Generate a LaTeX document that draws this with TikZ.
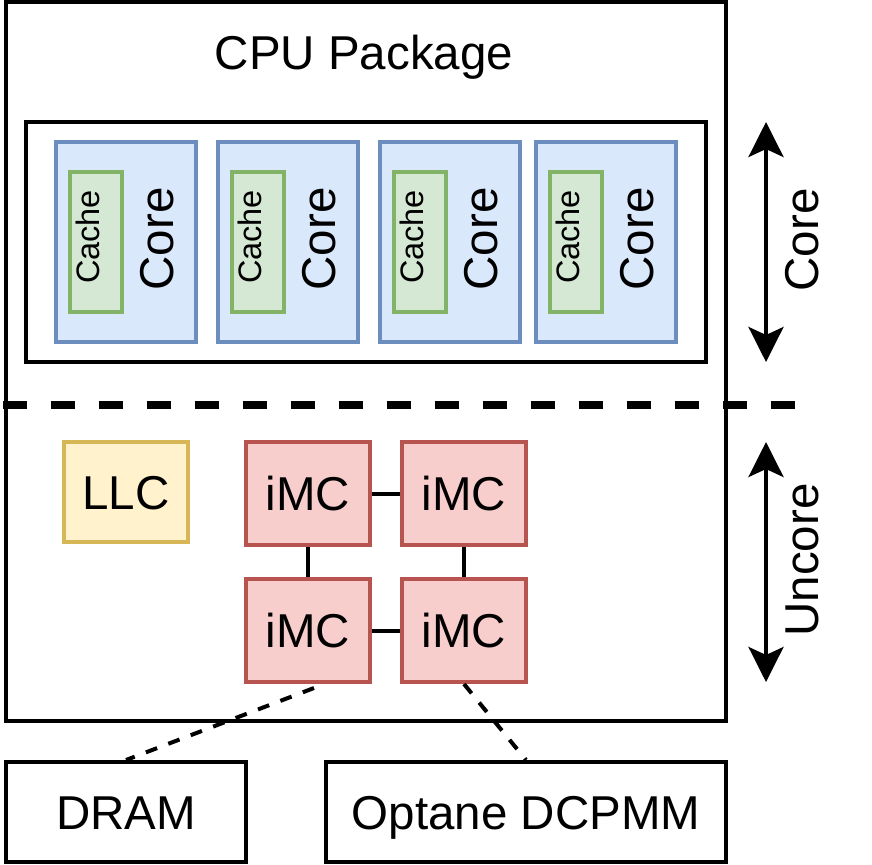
\documentclass[tikz,border=0pt]{standalone}
\usepackage{fontspec}
\setmainfont{Liberation Sans}
\usetikzlibrary{calc}
\usetikzlibrary{arrows.meta}

\definecolor{corefill}{HTML}{DAE8FC}
\definecolor{coreline}{HTML}{6C8EBF}
\definecolor{cachefill}{HTML}{D5E8D4}
\definecolor{cacheline}{HTML}{82B366}
\definecolor{llcfill}{HTML}{FFF2CC}
\definecolor{llcline}{HTML}{D6B656}
\definecolor{imcfill}{HTML}{F8CECC}
\definecolor{imcline}{HTML}{B85450}
\newcommand{\bigtxt}{\fontsize{47.5}{52}\selectfont}
\newcommand{\smalltxt}{\fontsize{32.5}{36}\selectfont}

\begin{document}
\begin{tikzpicture}[x=1pt, y=-1pt,
    plainbox/.style={draw=black, line width=4pt, font=\bigtxt, text height=34pt, text depth=0pt},
    corebox/.style={draw=coreline, fill=corefill, line width=4pt, minimum width=140pt, minimum height=200pt},
    cachebox/.style={draw=cacheline, fill=cachefill, line width=4pt, minimum width=52pt, minimum height=140pt},
    imcbox/.style={draw=imcline, fill=imcfill, line width=4pt, minimum width=124pt, minimum height=103pt,
        font=\bigtxt, text height=34pt, text depth=0pt},
    vlabel/.style={rotate=90, anchor=base, inner sep=0pt, font=\bigtxt},
    cachelabel/.style={rotate=90, anchor=base, inner sep=0pt, font=\smalltxt},
    span/.style={line width=4pt, {Stealth[length=35pt,width=35pt,inset=8pt]}-{Stealth[length=35pt,width=35pt,inset=8pt]}},
    link/.style={line width=4pt},
    memlink/.style={line width=4pt, dash pattern=on 12pt off 12pt}]
    \useasboundingbox (0, 0) rectangle (872, 864);

    % package and core area
    \node[plainbox, minimum width=720pt, minimum height=719pt] (pkg) at (366, 361.5) {};
    \node[anchor=base, inner sep=0pt, font=\bigtxt] (pkgname) at (364, 70) {CPU Package};
    \node[plainbox, minimum width=680pt, minimum height=240pt] (corearea) at (366, 242) {};

    \node[corebox] (core1) at (126, 242) {};
    \node[corebox] (core2) at (288, 242) {};
    \node[corebox] (core3) at (450, 242) {};
    \node[corebox] (core4) at (606, 242) {};
    \node[cachebox] (cache1) at (96, 242) {};
    \node[cachebox] (cache2) at (258, 242) {};
    \node[cachebox] (cache3) at (420, 242) {};
    \node[cachebox] (cache4) at (576, 242) {};
    \node[cachelabel] (cachetxt1) at ($(cache1)+(3,-5)$) {Cache};
    \node[cachelabel] (cachetxt2) at ($(cache2)+(3,-5)$) {Cache};
    \node[cachelabel] (cachetxt3) at ($(cache3)+(3,-5)$) {Cache};
    \node[cachelabel] (cachetxt4) at ($(cache4)+(3,-5)$) {Cache};
    \node[vlabel] (coretxt1) at ($(core1)+(47,-3)$) {Core};
    \node[vlabel] (coretxt2) at ($(core2)+(47,-3)$) {Core};
    \node[vlabel] (coretxt3) at ($(core3)+(47,-3)$) {Core};
    \node[vlabel] (coretxt4) at ($(core4)+(47,-3)$) {Core};

    % core / uncore split
    \coordinate (sepL) at (3, 405);
    \coordinate (sepR) at (796, 405);
    \draw[line width=8pt, dash pattern=on 24pt off 24pt] (sepL) -- (sepR);

    % uncore
    \node[plainbox, draw=llcline, fill=llcfill, minimum width=124pt, minimum height=100pt] (llc) at (126, 492) {LLC};
    \node[imcbox] (imc1) at (308, 493.5) {iMC};
    \node[imcbox] (imc2) at (464, 493.5) {iMC};
    \node[imcbox] (imc3) at (308, 630.5) {iMC};
    \node[imcbox] (imc4) at (464, 630.5) {iMC};
    \draw[link] (imc1) -- (imc2);
    \draw[link] (imc3) -- (imc4);
    \draw[link] (imc1) -- (imc3);
    \draw[link] (imc2) -- (imc4);

    % memory
    \node[plainbox, minimum width=240pt, minimum height=100pt] (dram) at (126, 812) {DRAM};
    \node[plainbox, minimum width=400pt, minimum height=100pt] (optane) at (526, 812) {Optane DCPMM};
    \draw[memlink] ($(imc3.south)+(6,4)$) -- (dram.north);
    \draw[memlink] (imc4.south) -- (optane.north);

    % extents
    \coordinate (coretop) at (766, 122);
    \coordinate (corebot) at (766, 362);
    \coordinate (unctop) at (766, 442);
    \coordinate (uncbot) at (766, 682);
    \draw[span] (coretop) -- (corebot);
    \draw[span] (unctop) -- (uncbot);
    \node[vlabel] (corespan) at (818, 240) {Core};
    \node[vlabel] (uncspan) at (818, 560) {Uncore};
\end{tikzpicture}
\end{document}
